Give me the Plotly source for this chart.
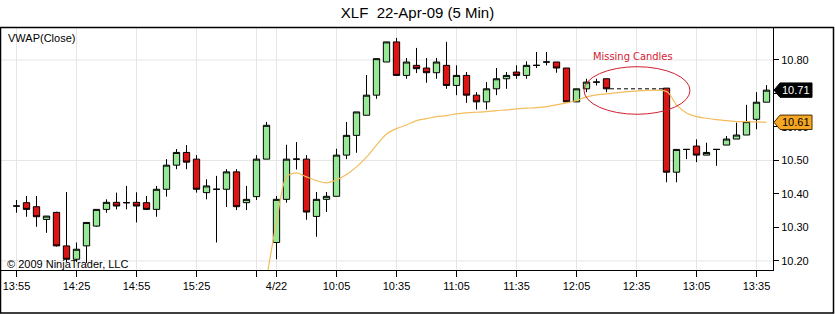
import plotly.graph_objects as go

# ---------------- data ----------------
times_0421 = ["13:55","14:00","14:05","14:10","14:15","14:20","14:25","14:30","14:35","14:40",
              "14:45","14:50","14:55","15:00","15:05","15:10","15:15","15:20","15:25","15:30",
              "15:35","15:40","15:45","15:50","15:55","16:00"]
open_0421 = [10.364,10.374,10.362,10.324,10.345,10.245,10.205,10.245,10.304,10.354,
             10.375,10.374,10.375,10.374,10.354,10.414,10.486,10.524,10.504,10.404,
             10.414,10.414,10.466,10.374,10.392,10.504]
high_0421 = [10.382,10.394,10.394,10.334,10.347,10.406,10.255,10.315,10.354,10.384,
             10.404,10.424,10.405,10.394,10.424,10.504,10.534,10.546,10.516,10.444,
             10.454,10.474,10.474,10.424,10.516,10.615]
low_0421 = [10.344,10.332,10.302,10.284,10.243,10.197,10.197,10.194,10.302,10.344,
            10.354,10.354,10.315,10.352,10.332,10.392,10.474,10.474,10.404,10.384,
            10.255,10.361,10.352,10.352,10.382,10.504]
close_0421 = [10.364,10.354,10.332,10.334,10.245,10.205,10.235,10.315,10.354,10.375,
              10.364,10.374,10.364,10.354,10.414,10.486,10.524,10.495,10.414,10.424,
              10.414,10.466,10.362,10.384,10.504,10.605]

times_0422 = ["09:35","09:40","09:45","09:50","09:55","10:00","10:05","10:10","10:15","10:20",
              "10:25","10:30","10:35","10:40","10:45","10:50","10:55","11:00","11:05","11:10",
              "11:15","11:20","11:25","11:30","11:35","11:40","11:45","11:50","11:55","12:00",
              "12:05","12:10","12:15","12:20",
              "12:50","12:55","13:00","13:05","13:10","13:15","13:20","13:25","13:30","13:35","13:40"]
open_0422 = [10.255,10.384,10.504,10.504,10.333,10.384,10.393,10.516,10.575,10.635,
             10.695,10.794,10.854,10.754,10.784,10.776,10.762,10.784,10.724,10.754,
             10.695,10.675,10.714,10.744,10.764,10.754,10.784,10.794,10.794,10.776,
             10.675,10.714,10.734,10.744,
             10.716,10.465,10.533,10.543,10.516,10.533,10.546,10.564,10.576,10.623,10.674]
high_0422 = [10.394,10.547,10.555,10.516,10.406,10.406,10.535,10.615,10.645,10.755,
             10.804,10.854,10.866,10.806,10.836,10.806,10.806,10.854,10.784,10.764,
             10.704,10.734,10.776,10.764,10.784,10.796,10.824,10.824,10.794,10.776,
             10.714,10.744,10.744,10.744,
             10.716,10.533,10.533,10.563,10.553,10.533,10.573,10.613,10.666,10.704,10.725]
low_0422 = [10.205,10.374,10.473,10.323,10.272,10.346,10.393,10.504,10.523,10.635,
            10.684,10.794,10.754,10.744,10.761,10.732,10.744,10.714,10.695,10.672,
            10.652,10.652,10.695,10.714,10.744,10.744,10.776,10.784,10.762,10.675,
            10.675,10.704,10.724,10.704,
            10.435,10.435,10.504,10.495,10.516,10.484,10.546,10.564,10.576,10.593,10.674]
close_0422 = [10.384,10.504,10.504,10.346,10.384,10.393,10.516,10.575,10.645,10.695,
              10.804,10.854,10.754,10.794,10.774,10.762,10.794,10.724,10.754,10.695,
              10.675,10.714,10.744,10.754,10.754,10.784,10.784,10.794,10.776,10.675,
              10.714,10.734,10.734,10.714,
              10.465,10.533,10.533,10.516,10.524,10.533,10.564,10.576,10.616,10.674,10.710]
vwap_0422 = [10.316,10.451,10.463,10.451,10.440,10.433,10.442,10.458,10.481,10.510,
             10.546,10.579,10.595,10.606,10.619,10.625,10.631,10.634,10.639,10.642,
             10.644,10.646,10.649,10.651,10.654,10.656,10.658,10.661,10.666,10.672,
             10.679,10.690,10.696,10.699,
             10.706,10.666,10.642,10.631,10.626,10.622,10.619,10.616,10.616,10.615,10.614]
vwap_entry_0421_close = 10.146   # where the VWAP line enters from below the chart

tick_days = [21, 21, 21, 21, 21, 22, 22, 22, 22, 22, 22, 22, 22, 22]
tick_times = ["13:55","14:25","14:55","15:25","15:55","09:35","10:05","10:35","11:05","11:35",
              "12:05","12:35","13:05","13:35"]
tick_labels = ["13:55","14:25","14:55","15:25","","4/22","10:05","10:35","11:05","11:35",
               "12:05","12:35","13:05","13:35"]
y_ticks = [10.20, 10.30, 10.40, 10.50, 10.60, 10.70, 10.80]
y_grid = [10.20, 10.50, 10.80]

title_text = "XLF\u00a0 22-Apr-09 (5 Min)"

# ---------------- helpers ----------------
def mins(t):
    h, m = t.split(":")
    return int(h) * 60 + int(m)

def slot(day, t):
    if day == 21:
        return (mins(t) - mins(times_0421[0])) / 5
    return len(times_0421) + (mins(t) - mins(times_0422[0])) / 5

x21 = [slot(21, t) for t in times_0421]
x22 = [slot(22, t) for t in times_0422]
xs = x21 + x22
opens = open_0421 + open_0422
highs = high_0421 + high_0422
lows = low_0421 + low_0422
closes = close_0421 + close_0422

W, H = 835, 314
L, R, T, B = 1, 62, 27, 44
PW, PH = W - L - R, H - T - B

def px_x(px):
    return (px - L) / PW

def px_y(py):
    return (H - B - py) / PH

FONT = "Liberation Sans, Arial, sans-serif"
GREEN = "#96E896"
RED = "#DD1414"

fig = go.Figure()

fig.add_trace(go.Candlestick(
    x=xs, open=opens, high=highs, low=lows, close=closes,
    increasing=dict(fillcolor=GREEN, line=dict(color="black", width=1)),
    decreasing=dict(fillcolor=RED, line=dict(color="black", width=1)),
    whiskerwidth=0, hoverinfo="skip", showlegend=False,
))

fig.add_trace(go.Scatter(
    x=[x21[-1]] + x22, y=[vwap_entry_0421_close] + vwap_0422,
    mode="lines", line=dict(color="#F3BD5C", width=1.2, shape="spline", smoothing=0.8),
    hoverinfo="skip", showlegend=False,
))

# dashed line across the gap of missing candles
gap_i = next(i for i in range(1, len(x22)) if x22[i] - x22[i - 1] > 1)
fig.add_trace(go.Scatter(
    x=[x22[gap_i - 1] + 0.35, x22[gap_i] - 0.15],
    y=[close_0422[gap_i - 1], close_0422[gap_i - 1]],
    mode="lines", line=dict(color="black", width=1, dash="4px,3px"),
    hoverinfo="skip", showlegend=False,
))

shapes = []
for g in y_grid:
    shapes.append(dict(type="line", xref="paper", yref="y", x0=0, x1=1, y0=g, y1=g,
                       line=dict(color="#E6E6E6", width=1), layer="below"))
# day separator
shapes.append(dict(type="line", xref="x", yref="paper", x0=x22[0], x1=x22[0], y0=0, y1=1,
                   line=dict(color="#A8A8A8", width=1), layer="below"))
# missing-candles ellipse
shapes.append(dict(type="circle", xref="x", yref="y", x0=56.75, x1=67.35, y0=10.638, y1=10.780,
                   line=dict(color="#D02030", width=1), layer="above"))
# outer frame
shapes.append(dict(type="rect", xref="paper", yref="paper",
                   x0=px_x(0.5), x1=px_x(833.5), y0=px_y(313), y1=px_y(27.5),
                   line=dict(color="black", width=1.5), layer="above"))

# price markers on the right axis
def marker(value, fill, edge):
    h = 7.2 / 335
    xt, xa, xr = px_x(774), px_x(780), px_x(812)
    path = (f"M {xt},{value} L {xa},{value + h} L {xr},{value + h} "
            f"L {xr},{value - h} L {xa},{value - h} Z")
    return dict(type="path", xref="paper", yref="y", path=path, fillcolor=fill,
                line=dict(color=edge, width=1), layer="above")

last_close = close_0422[-1]
last_vwap = vwap_0422[-1]
shapes.append(marker(last_close, "black", "black"))
shapes.append(marker(last_vwap, "#F5A623", "#4a3000"))

annotations = [
    dict(text="VWAP(Close)", xref="paper", yref="paper", x=px_x(6), y=px_y(38),
         xanchor="left", yanchor="middle", showarrow=False, font=dict(size=11, color="black", family=FONT)),
    dict(text="© 2009 NinjaTrader, LLC", xref="paper", yref="paper", x=px_x(5), y=px_y(264),
         xanchor="left", yanchor="middle", showarrow=False, font=dict(size=11, color="black", family=FONT)),
    dict(text="Missing Candles", xref="x", yref="y", x=61.65, y=10.809,
         xanchor="center", yanchor="middle", showarrow=False,
         font=dict(size=11, color="#D42030", family="DejaVu Sans Condensed, Liberation Sans Narrow, Liberation Sans, sans-serif")),
    dict(text=f"{last_close:.2f}", xref="paper", yref="y", x=px_x(796), y=last_close,
         xanchor="center", yanchor="middle", showarrow=False, font=dict(size=11, color="white", family=FONT)),
    dict(text=f"{last_vwap:.2f}", xref="paper", yref="y", x=px_x(796), y=last_vwap,
         xanchor="center", yanchor="middle", showarrow=False, font=dict(size=11, color="black", family=FONT)),
]

tick_x = [slot(d, t) for d, t in zip(tick_days, tick_times)]

fig.update_layout(
    width=W, height=H,
    margin=dict(l=L, r=R, t=T, b=B, pad=0),
    paper_bgcolor="white", plot_bgcolor="white",
    font=dict(family=FONT, size=11, color="black"),
    title=dict(text=title_text, xref="container", yref="container", x=0.5, y=1 - 13 / H,
               xanchor="center", yanchor="middle", font=dict(size=15, color="black", family=FONT)),
    boxgap=0.1, boxgroupgap=0.3,
    showlegend=False,
    shapes=shapes,
    annotations=annotations,
    xaxis=dict(
        range=[-1.55, 75.65], tickmode="array", tickvals=tick_x, ticktext=tick_labels,
        showgrid=True, gridcolor="#E6E6E6", gridwidth=1, zeroline=False,
        showline=True, linecolor="black", linewidth=1,
        ticks="outside", ticklen=6, tickcolor="black", tickfont=dict(size=11),
        rangeslider=dict(visible=False), fixedrange=True,
    ),
    yaxis=dict(
        side="right", range=[10.173, 10.8985], tickmode="array", tickvals=y_ticks,
        ticktext=[f"{v:.2f}" for v in y_ticks],
        showgrid=False, zeroline=False, showline=True, linecolor="black", linewidth=1,
        ticks="outside", ticklen=5, tickcolor="black", tickfont=dict(size=11), fixedrange=True,
    ),
)

fig.write_html("out.html")
